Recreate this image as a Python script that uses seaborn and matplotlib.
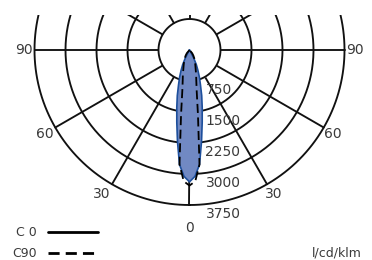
import numpy as np
import pandas as pd
import matplotlib
matplotlib.use('Agg')
import matplotlib.pyplot as plt
import seaborn as sns
from matplotlib.lines import Line2D
from matplotlib.patches import Rectangle

sns.set_style('white')
plt.rcParams['font.family'] = 'DejaVu Sans'

# Intensité lumineuse (cd/klm) selon l'angle, demi-plans C0 et C90 (symétriques)
angles = [0, 2.5, 5, 7.5, 10, 12.5, 15, 17.5, 20, 22.5, 25, 27.5, 30, 35, 40, 50, 60, 70, 80, 90]
c0_values = [3190, 3060, 2780, 2230, 1770, 1420, 1140, 880, 700, 530, 390, 220, 60, 0, 0, 0, 0, 0, 0, 0]
c90_values = [3280, 3180, 2780, 1560, 1000, 760, 620, 500, 420, 360, 310, 270, 230, 160, 100, 0, 0, 0, 0, 0]

ring_values = [750, 1500, 2250, 3000, 3750]
spoke_angles = list(range(0, 360, 30))
angle_labels = ['0', '30', '60', '90']

grid_color = '#111111'
text_color = '#3a3a3a'
fill_color = '#7189c3'
edge_color = '#1d4f9c'


def symmetric(values, sign=1):
    values = np.asarray(values, dtype=float)
    return np.concatenate([sign * values[::-1], values[1:]])


df = pd.DataFrame({
    'theta': np.deg2rad(symmetric(angles, sign=-1)),
    'C0': symmetric(c0_values),
    'C90': symmetric(c90_values),
})

fig = plt.figure(figsize=(3.72, 2.60), dpi=100)
W, H = 372, 260
cx, cy, R = 189.5, 50, 155
ax = fig.add_axes([(cx - R) / W, (H - cy - R) / H, 2 * R / W, 2 * R / H], projection='polar')
ax.set_theta_zero_location('S')
ax.set_ylim(0, 3750)
ax.grid(False)
ax.set_xticks([])
ax.set_yticks([])
ax.spines['polar'].set_visible(False)
ax.set_facecolor('none')

# grille : cercles et rayons
circle = np.linspace(0, 2 * np.pi, 400)
for r in ring_values:
    ax.plot(circle, np.full_like(circle, r), color=grid_color, lw=1.35, clip_on=False, zorder=2)
for a in spoke_angles:
    ax.plot([np.deg2rad(a)] * 2, [ring_values[0], ring_values[-1]], color=grid_color, lw=1.35,
            clip_on=False, zorder=1)
ax.fill_between(circle, 0, ring_values[0], color='white', zorder=1.5, lw=0)

# courbes photométriques
ax.fill(df['theta'], df['C0'], color=fill_color, lw=0, zorder=3)
sns.lineplot(data=df, x='theta', y='C0', sort=False, estimator=None, ax=ax,
             color=edge_color, lw=1.2, zorder=4)
sns.lineplot(data=df, x='theta', y='C90', sort=False, estimator=None, ax=ax,
             color='black', lw=1.3, dashes=False, linestyle=(0, (5, 2.5)), zorder=5)
ax.set_xlabel('')
ax.set_ylabel('')
if ax.get_legend():
    ax.get_legend().remove()

# étiquettes des valeurs
for v in ring_values:
    ax.annotate(str(v), xy=(0, v), xytext=(16, -9), textcoords='offset pixels',
                ha='left', va='center', fontsize=10, color=text_color, annotation_clip=False)

# étiquettes des angles
label_pos = {
    '0': [(0, (0, -23), 'center', 'center')],
    '30': [(30, (-2, -3), 'left', 'top'), (-30, (-2, -3), 'right', 'top')],
    '60': [(60, (0, 1), 'left', 'top'), (-60, (-2, 1), 'right', 'top')],
    '90': [(90, (2, 0), 'left', 'center'), (-90, (-2, 0), 'right', 'center')],
}
for lab in angle_labels:
    for a, off, ha, va in label_pos[lab]:
        ax.annotate(lab, xy=(np.deg2rad(a), ring_values[-1]), xytext=off, textcoords='offset pixels',
                    ha=ha, va=va, fontsize=10, color=text_color, annotation_clip=False)

# le haut du diagramme est coupé
fig.add_artist(Rectangle((0, 1 - 15 / H), 1, 15 / H, transform=fig.transFigure,
                         facecolor='white', edgecolor='none', zorder=20))

handles = [Line2D([], [], color='black', lw=2.0),
           Line2D([], [], color='black', lw=2.0, linestyle=(0, (4, 2.2)))]
fig.legend(handles, ['C 0', 'C90'], loc='lower left', bbox_to_anchor=(12 / W, 0 / H),
           frameon=False, markerfirst=False, handlelength=4.0, handletextpad=0.9,
           labelspacing=0.6, borderpad=0, borderaxespad=0, fontsize=9, labelcolor=text_color)

fig.text(362 / W, 1 - 253 / H, 'l/cd/klm', ha='right', va='center', fontsize=9, color=text_color)

fig.savefig('out.png', dpi=100)
